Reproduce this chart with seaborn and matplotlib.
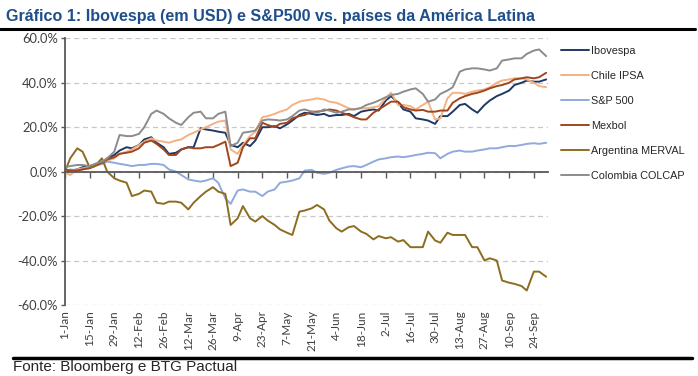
import pandas as pd
import seaborn as sns
import matplotlib.pyplot as plt
import matplotlib.dates as mdates
from matplotlib.lines import Line2D
from matplotlib.ticker import FuncFormatter

# datas: segundas e quintas-feiras de 1-Jan a 1-Out
segundas = pd.date_range('2018-01-01', '2018-10-01', freq='7D')
quintas = pd.date_range('2018-01-04', '2018-09-27', freq='7D')
datas = segundas.union(quintas)

# retorno acumulado em USD (%)
ibovespa = [0, 0.5, 1, 2, 2.5, 3, 3.8, 6, 7.5, 9.5, 11, 10.5, 12, 14.5, 15.5, 13,
            11, 8, 8.5, 10, 11, 11, 19.5, 19, 18.5, 18, 17.5, 12, 11, 13,
            11.5, 14, 20, 20, 20.5, 19.5, 21.3, 23, 25.5, 26.5, 26, 25.5, 26, 25,
            25.5, 25.5, 26, 25, 27, 27.5, 28, 27.5, 32, 34, 31, 28, 27, 24,
            23.5, 23, 21.5, 25, 25, 27, 30, 30.5, 28, 26.5, 30, 32, 34, 35,
            36.5, 39, 40, 41, 40.5, 40.5, 41.5]
chile_ipsa = [-0.5, -1.5, 1, 1.5, 2, 2.5, 3.5, 5, 6, 8, 9, 10, 12, 13.5, 15, 14,
              13.5, 13, 14, 14.5, 16.5, 17.5, 19, 20, 21.5, 22.5, 23, 10, 8, 12,
              16, 18, 24.5, 25, 26, 27, 28, 30, 31.5, 32, 32.5, 33, 32.5, 31.5,
              31, 30, 28.5, 28, 28.5, 28.5, 29, 29.5, 33, 35.5, 30, 30, 29.5, 28,
              30, 31.5, 23.5, 24, 33, 35.5, 35.5, 35, 36, 36.5, 37, 38, 40, 41,
              41.5, 42, 42, 41.5, 40, 38.5, 38]
sp500 = [0, 1, 0.5, 1, 2.5, 3, 3.5, 4.5, 4, 3.5, 3, 2.5, 3, 3, 3.5, 3.5,
         3, 1, 0, -1.5, -3.5, -4, -4.5, -4, -3, -5, -12, -14.5, -8.5, -8,
         -9, -9, -11, -9, -8, -5, -4.5, -4, -3, 0.5, 0.8, -0.5, -1, -0.5,
         0.8, 1.5, 2.3, 2.5, 2, 3, 4.5, 5.5, 6, 6.5, 6.8, 6.5, 7, 7.5,
         8, 8.5, 8.3, 6, 8, 9, 9.5, 9, 9, 9.5, 10, 10.5, 10.5, 11,
         11.6, 11.5, 12, 12.5, 12.8, 12.5, 13]
mexbol = [1, 0.5, 0.5, 1, 1.5, 2.5, 4, 5.5, 6.5, 8, 8.5, 9, 10.5, 13, 14, 12.5,
          10, 7.5, 7.5, 10, 11, 10.5, 10.5, 11, 11, 12, 13.5, 2.5, 4, 11,
          15, 15, 22, 21, 20, 21.5, 22, 24, 25, 25.5, 27, 27, 27.5, 28,
          27.5, 26.5, 25.5, 24.5, 23.5, 23.5, 26.5, 28, 30, 31.5, 31.5, 29, 28, 27.5,
          27.8, 27, 27, 27.5, 27.5, 31, 33, 34, 35, 35.5, 36.5, 37.5, 38.5, 39,
          40, 41.5, 42, 42.5, 42, 42.5, 44.5]
merval = [0, 6, 10.5, 9, 2, 2.5, 6, 0, -3, -4, -5, -11, -10, -8.5, -9, -14,
          -14.5, -13.5, -13.5, -14, -17, -14, -11, -9, -7, -9, -10, -24, -21, -15.5,
          -21, -22.5, -20, -22, -24, -26, -27.5, -28.5, -18, -17.5, -16.5, -15, -17, -22,
          -25.5, -27, -25, -24.5, -27, -28, -30.5, -29, -30, -29.5, -31.5, -30.8, -34, -34,
          -34, -27, -31, -32, -27.5, -28.5, -28.5, -28.5, -34, -34, -40, -39, -40, -49,
          -50, -50.5, -51.5, -53.5, -45, -45, -47.3]
colcap = [2, 2.5, 3, 3, 2.5, 3.5, 4.5, 6, 9, 16.5, 16, 16, 17, 20, 26, 27.5,
          26, 24, 22, 21, 24.5, 26.5, 27, 24, 24, 26, 27, 11.5, 13, 17.5,
          18, 18.5, 23, 23.5, 23.3, 23, 23.5, 25, 27.5, 28, 27, 26.5, 28, 27.5,
          26.5, 27, 28, 28, 28.7, 30, 31, 32, 33.5, 34.5, 35, 36, 37, 37.5,
          35, 31.5, 32.5, 35, 36.5, 38, 45, 46, 46.5, 46.5, 46, 45.5, 46.5, 50,
          50.5, 51, 51, 53, 54.5, 55, 52]

nomes = ['Ibovespa', 'Chile IPSA', 'S&P 500', 'Mexbol', 'Argentina MERVAL', 'Colombia COLCAP']
cores = ['#1F3864', '#F4B183', '#8FAADC', '#A0461E', '#8C6D1F', '#8C8C8C']
valores = [ibovespa, chile_ipsa, sp500, mexbol, merval, colcap]

df = pd.concat([pd.DataFrame({'data': datas, 'valor': v, 'indice': n})
                for n, v in zip(nomes, valores)], ignore_index=True)

sns.set_style('white')
plt.rcParams['font.family'] = ['Liberation Sans', 'DejaVu Sans']

fig = plt.figure(figsize=(6.98, 3.76), dpi=100)
ax = fig.add_axes([0.093, 0.189, 0.692, 0.709])

sns.lineplot(data=df, x='data', y='valor', hue='indice', hue_order=nomes,
             palette=cores, linewidth=1.4, ax=ax)

ax.set_xlim(pd.Timestamp('2018-01-01'), pd.Timestamp('2018-10-02'))
ax.set_ylim(-60, 60)
ax.set_yticks(range(-60, 61, 20))
ax.yaxis.set_major_formatter(FuncFormatter(lambda v, p: '{:.1f}%'.format(v)))
ax.set_xticks(pd.date_range('2018-01-01', '2018-09-24', freq='14D'))
ax.xaxis.set_major_formatter(mdates.DateFormatter('%-d-%b'))
ax.set_xlabel('')
ax.set_ylabel('')

# eixo x passa no zero
for s in ['right', 'bottom']:
    ax.spines[s].set_visible(False)
ax.spines['top'].set_position(('data', 0))
ax.spines['top'].set_color('#595959')
ax.spines['top'].set_linewidth(1.3)
ax.spines['left'].set_color('#595959')
ax.spines['left'].set_linewidth(1.3)
ax.tick_params(axis='x', bottom=False, top=True, labelbottom=True, labeltop=False,
               direction='in', length=4, width=1, color='#595959', pad=4,
               labelrotation=90, labelsize=8.5, labelcolor='#404040')
ax.tick_params(axis='y', left=True, direction='out', length=3, width=1, color='#595959',
               labelsize=9.3, labelcolor='#404040', pad=2)
for lab in ax.get_xticklabels() + ax.get_yticklabels():
    lab.set_family(['Lato', 'DejaVu Sans'])

ax.yaxis.grid(True, linestyle=(0, (4, 3)), color='#C8C8C8', linewidth=0.9)
ax.xaxis.grid(False)
ax.set_axisbelow(True)

handles, labels = ax.get_legend_handles_labels()
ax.legend(handles, labels, loc='upper left', bbox_to_anchor=(561 / 698, 1 - 46 / 376),
          bbox_transform=fig.transFigure, frameon=False, fontsize=7.8,
          handlelength=2.6, handletextpad=0.15, labelspacing=1.38,
          borderpad=0, borderaxespad=0)

fig.text(0.008, 1 - 17 / 376, 'Gráfico 1: Ibovespa (em USD) e S&P500 vs. países da América Latina',
         fontsize=11.6, fontweight='bold', color='#1F4E8C', va='center')
fig.add_artist(Line2D([0.0, 0.996], [1 - 29 / 376] * 2, color='black', linewidth=2.2))
fig.add_artist(Line2D([13 / 698, 0.992], [1 - 358 / 376] * 2, color='black', linewidth=2.5))
fig.text(13 / 698, 1 - 367 / 376, 'Fonte: Bloomberg e BTG Pactual', fontsize=11,
         va='center')

fig.savefig('out.png', dpi=100)
